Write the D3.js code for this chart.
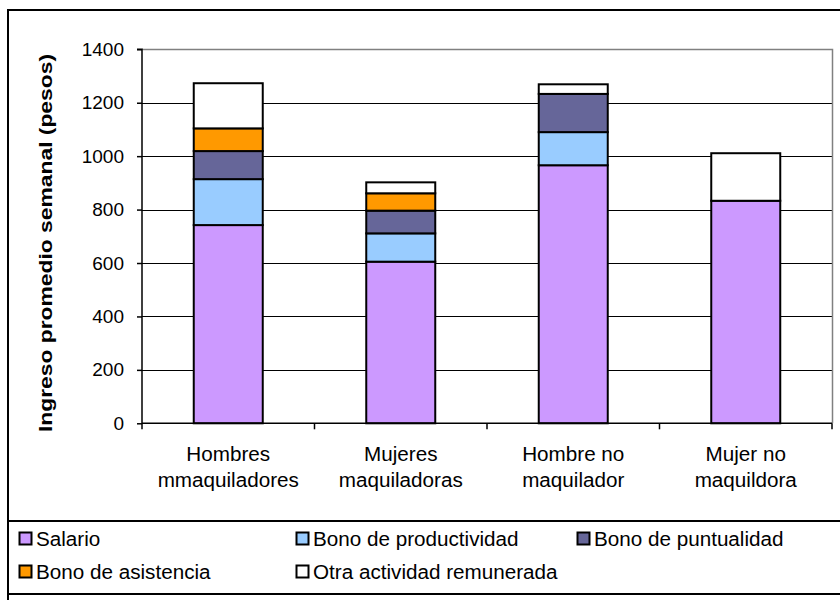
<!DOCTYPE html>
<html>
<head>
<meta charset="utf-8">
<script src="https://cdn.jsdelivr.net/npm/d3@7"></script>
<style>
  html, body { margin: 0; padding: 0; background: #fff; }
  svg { display: block; font-family: "Liberation Sans", Arial, sans-serif; }
</style>
</head>
<body>
<svg id="chart" width="840" height="600"></svg>
<script>
const categories = [["Hombres", "mmaquiladores"], ["Mujeres", "maquiladoras"], ["Hombre no", "maquilador"], ["Mujer no", "maquildora"]];
const seriesNames = ["Salario", "Bono de productividad", "Bono de puntualidad", "Bono de asistencia", "Otra actividad remunerada"];
const salario = [742, 605, 966, 833];
const productividad = [172, 106, 124, 0];
const puntualidad = [105, 85, 143, 0];
const asistencia = [85, 65, 0, 0];
const otra = [169, 41, 36, 178];
const colors = ["#CC99FF", "#99CCFF", "#666699", "#FF9900", "#FFFFFF"];
const yTicks = [0, 200, 400, 600, 800, 1000, 1200, 1400];
const yTitle = "Ingreso promedio semanal (pesos)";

const seriesValues = [salario, productividad, puntualidad, asistencia, otra];
const table = categories.map((c, i) => {
  const row = { idx: i };
  seriesNames.forEach((s, j) => row[s] = seriesValues[j][i]);
  return row;
});

const svg = d3.select("#chart");
const plot = { left: 142, right: 832, top: 49.3, bottom: 423.3 };

// outer frame
svg.append("rect").attr("x", 8).attr("y", 10).attr("width", 900).attr("height", 700)
  .attr("fill", "none").attr("stroke", "#000").attr("stroke-width", 2);

const x = d3.scaleBand().domain(d3.range(categories.length)).range([plot.left, plot.right]).padding(0);
const y = d3.scaleLinear().domain([0, 1400]).range([plot.bottom, plot.top]);

// gridlines
svg.append("g").selectAll("line").data(yTicks.filter(t => t > 0 && t < 1400)).join("line")
  .attr("x1", plot.left).attr("x2", plot.right)
  .attr("y1", d => Math.round(y(d)) + 0.5).attr("y2", d => Math.round(y(d)) + 0.5)
  .attr("stroke", "#000").attr("stroke-width", 1);

// plot border (top + right gray)
svg.append("path")
  .attr("d", `M${plot.left},${Math.round(plot.top)+0.5}H${plot.right+0.5}V${plot.bottom}`)
  .attr("fill", "none").attr("stroke", "#808080").attr("stroke-width", 1.5);

// stacked bars
const stack = d3.stack().keys(seriesNames);
const stacked = stack(table);
const barW = x.bandwidth() * 0.4;
const gBars = svg.append("g");
stacked.forEach((layer, j) => {
  gBars.append("g").selectAll("rect").data(layer.filter(d => d[1] - d[0] > 0)).join("rect")
    .attr("x", d => x(d.data.idx) + (x.bandwidth() - barW) / 2)
    .attr("width", barW)
    .attr("y", d => y(d[1]))
    .attr("height", d => y(d[0]) - y(d[1]))
    .attr("fill", colors[j])
    .attr("stroke", "#000").attr("stroke-width", 2);
});

// y axis
const yAxis = d3.axisLeft(y).tickValues(yTicks).tickSize(5).tickPadding(13).tickFormat(d3.format("d"));
const gy = svg.append("g").attr("transform", `translate(${plot.left},0)`).call(yAxis);
gy.select(".domain").attr("stroke", "#000").attr("stroke-width", 1.5).attr("d", `M-5,${plot.top}H0V${plot.bottom}`);
gy.selectAll(".tick line").attr("stroke", "#000").attr("stroke-width", 1.5);
gy.selectAll(".tick text").attr("font-size", 19).attr("fill", "#000")
  .attr("font-family", "'Liberation Sans', Arial, sans-serif");

// x axis
const gx = svg.append("g");
gx.append("line").attr("x1", plot.left).attr("x2", plot.right).attr("y1", plot.bottom).attr("y2", plot.bottom)
  .attr("stroke", "#000").attr("stroke-width", 1.5);
const boundaries = d3.range(categories.length + 1).map(i => i < categories.length ? x(i) : plot.right);
gx.selectAll("line.tk").data(boundaries).join("line").attr("class", "tk")
  .attr("x1", d => d).attr("x2", d => d).attr("y1", plot.bottom).attr("y2", plot.bottom + 6)
  .attr("stroke", "#000").attr("stroke-width", 1.5);
categories.forEach((lines, i) => {
  const cx = x(i) + x.bandwidth() / 2;
  lines.forEach((t, k) => {
    gx.append("text")
      .attr("transform", `translate(${cx},${460.5 + k * 26.5}) scale(1.06,1)`)
      .attr("text-anchor", "middle").attr("font-size", 19.5).attr("fill", "#000").text(t);
  });
});

// y title
svg.append("text")
  .attr("transform", `translate(51.5,243) rotate(-90)`)
  .attr("text-anchor", "middle").attr("font-size", 19).attr("font-weight", "bold")
  .attr("textLength", 378).attr("lengthAdjust", "spacingAndGlyphs")
  .text(yTitle);

// legend box
svg.append("rect").attr("x", 8).attr("y", 521).attr("width", 900).attr("height", 73)
  .attr("fill", "none").attr("stroke", "#000").attr("stroke-width", 2);
const legendPos = [[19.5, 532.5], [296.5, 532.5], [577.5, 532.5], [19.5, 565.5], [296.5, 565.5]];
const gLeg = svg.append("g");
seriesNames.forEach((s, j) => {
  const [lx, ly] = legendPos[j];
  gLeg.append("rect").attr("x", lx).attr("y", ly).attr("width", 12).attr("height", 12)
    .attr("fill", colors[j]).attr("stroke", "#000").attr("stroke-width", 2);
  gLeg.append("text")
    .attr("transform", `translate(${lx + 16.5},${ly + 13}) scale(1.06,1)`)
    .attr("font-size", 19.5).attr("fill", "#000").text(s);
});
</script>
</body>
</html>
